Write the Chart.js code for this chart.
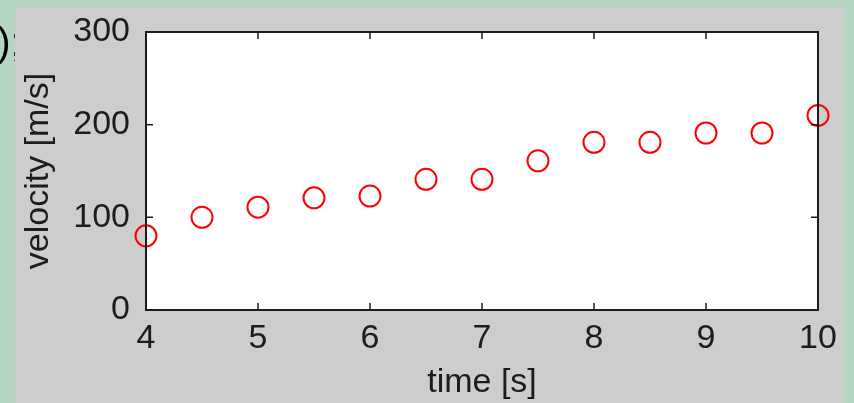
<!DOCTYPE html>
<html>
<head>
<meta charset="utf-8">
<script src="https://cdn.jsdelivr.net/npm/chart.js@4/dist/chart.umd.min.js"></script>
<style>
  html, body { margin: 0; padding: 0; background: #b4d6c3; }
  canvas { display: block; }
</style>
</head>
<body>
<canvas id="chartVelocity" width="854" height="403"></canvas>
<script>
const times = [4, 4.5, 5, 5.5, 6, 6.5, 7, 7.5, 8, 8.5, 9, 9.5, 10];
const velocities = [80, 100, 111, 121, 123, 141, 141, 161, 181, 181, 191, 191, 210];
const xTickValues = [4, 5, 6, 7, 8, 9, 10];
const yTickValues = [0, 100, 200, 300];
const xTitle = 'time [s]';
const yTitle = 'velocity [m/s]';

const GREEN = '#b4d6c3';
const GRAY = '#cdcdcd';
const INK = '#1c1c1c';
const tickFont = { family: '"Liberation Sans", Arial', size: 34 };
const titleFont = { family: '"Liberation Sans", Arial', size: 34 };

// backdrop, white axes box, inward ticks
const panel = {
    id: 'panel',
    beforeDraw(chart) {
        const { ctx, chartArea: a, width, height } = chart;
        ctx.save();
        ctx.fillStyle = GREEN;
        ctx.fillRect(0, 0, width, height);
        ctx.fillStyle = '#000';
        ctx.font = '40px "Liberation Sans", Arial';
        ctx.textBaseline = 'alphabetic';
        ctx.fillText('0);', -25, 56);
        ctx.fillStyle = GRAY;
        ctx.fillRect(15, 7, 828, height - 7);
        ctx.fillStyle = '#fff';
        ctx.fillRect(a.left, a.top, a.right - a.left, a.bottom - a.top);
        ctx.restore();
    },
    afterDatasetsDraw(chart) {
        const { ctx, chartArea: a } = chart;
        const len = 7;
        ctx.save();
        ctx.strokeStyle = INK;
        ctx.lineWidth = 1.5;
        ctx.beginPath();
        xTickValues.forEach(v => {
            const px = chart.scales.x.getPixelForValue(v);
            ctx.moveTo(px, a.bottom); ctx.lineTo(px, a.bottom - len);
            ctx.moveTo(px, a.top); ctx.lineTo(px, a.top + len);
        });
        yTickValues.forEach(v => {
            const py = chart.scales.y.getPixelForValue(v);
            ctx.moveTo(a.left, py); ctx.lineTo(a.left + len, py);
            ctx.moveTo(a.right, py); ctx.lineTo(a.right - len, py);
        });
        ctx.stroke();
        ctx.lineWidth = 2;
        ctx.strokeRect(a.left, a.top, a.right - a.left, a.bottom - a.top);
        ctx.restore();
    }
};

new Chart(document.getElementById('chartVelocity'), {
    type: 'scatter',
    data: {
        datasets: [{
            data: times.map((t, i) => ({ x: t, y: velocities[i] })),
            pointStyle: 'circle',
            pointRadius: 10.5,
            pointHoverRadius: 10.5,
            borderWidth: 2,
            borderColor: '#ff0000',
            backgroundColor: 'rgba(0,0,0,0)',
            clip: false
        }]
    },
    options: {
        responsive: false,
        animation: false,
        events: [],
        layout: { padding: { top: 32, right: 36, left: 0, bottom: 0 } },
        plugins: { legend: { display: false }, tooltip: { enabled: false } },
        scales: {
            x: {
                type: 'linear',
                min: 4,
                max: 10,
                afterBuildTicks: s => { s.ticks = xTickValues.map(v => ({ value: v })); },
                afterFit: s => { s.height = 93; s.paddingLeft = 0; s.paddingRight = 0; },
                grid: { display: false, drawTicks: false },
                border: { display: false },
                ticks: { font: tickFont, color: INK, padding: 8, maxRotation: 0 },
                title: { display: true, text: xTitle, font: titleFont, color: INK, padding: { top: 0, bottom: 0 } }
            },
            y: {
                type: 'linear',
                min: 0,
                max: 300,
                afterBuildTicks: s => { s.ticks = yTickValues.map(v => ({ value: v })); },
                afterFit: s => { s.width = 146; s.paddingTop = 0; s.paddingBottom = 0; },
                grid: { display: false, drawTicks: false },
                border: { display: false },
                ticks: { font: tickFont, color: INK, padding: 16 },
                title: { display: true, text: yTitle, font: titleFont, color: INK, padding: { top: 18, bottom: 0 } }
            }
        }
    },
    plugins: [panel]
});
</script>
</body>
</html>
